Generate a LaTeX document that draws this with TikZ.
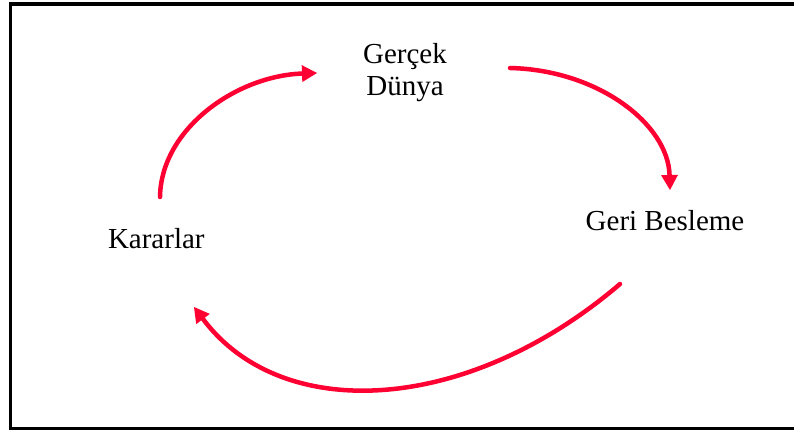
\documentclass[tikz,border=0pt]{standalone}
\usepackage{fontspec}
\setmainfont{Liberation Serif}
\usetikzlibrary{arrows.meta}
\definecolor{loopred}{RGB}{255,0,51}
\begin{document}
\begin{tikzpicture}[x=1pt,y=-1pt,
  word/.style={font=\fontsize{29}{32.7}\selectfont, inner sep=0pt, anchor=base, align=center},
  flow/.style={color=loopred, line width=4.5pt, line cap=round,
    -{Triangle[length=15pt,width=17pt,line width=0pt]}}]
\useasboundingbox (0,0) rectangle (794,430);
% open frame (its right side lies past the page edge)
\draw[line width=3.5pt] (796,4) -- (10.5,4) -- (10.5,428.5) -- (796,428.5);

% stages of the loop (a two-line node sits on its last baseline)
\node[word] (gd) at (405,96) {Gerçek\\Dünya};
\node[word] (gb) at (665,230) {Geri Besleme};
\node[word] (kr) at (156.3,248.3) {Kararlar};

% ends of the connectors, next to each stage
\coordinate (k1) at (160,197);
\coordinate (g1) at (317,73);
\coordinate (g2) at (510,68);
\coordinate (b1) at (670,190);
\coordinate (b2) at (620,284);
\coordinate (k2) at (194,307);

\draw[flow] (k1) .. controls (161,129) and (236,76) .. (g1);
\draw[flow] (g2) .. controls (598,70) and (668,124) .. (b1);
\draw[flow] (b2) .. controls (468,414) and (282.2,424.6) .. (k2);
\end{tikzpicture}
\end{document}
